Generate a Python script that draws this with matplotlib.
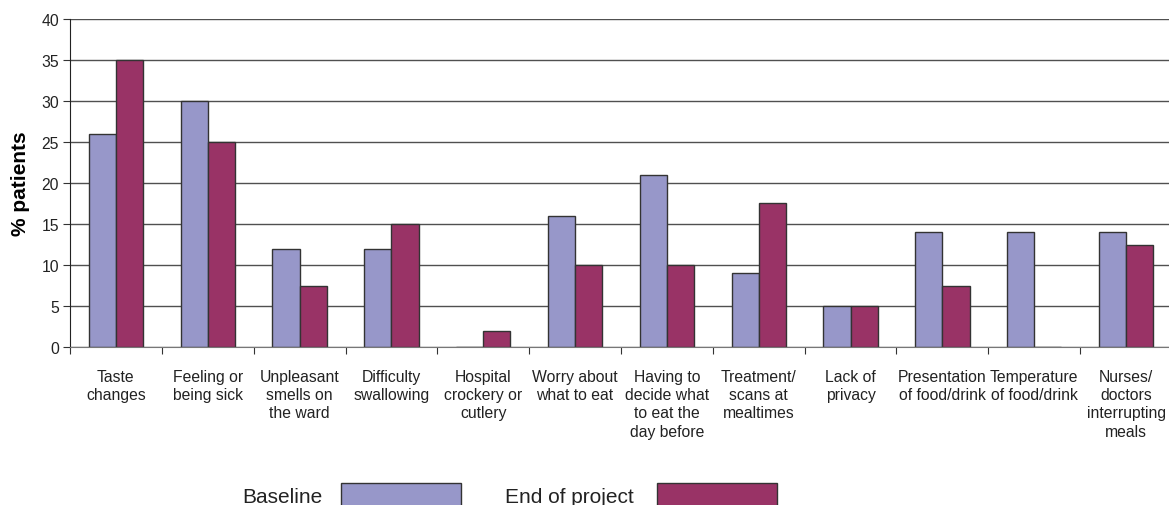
import matplotlib.pyplot as plt
import numpy as np
from matplotlib.patches import Rectangle

# Data
categories = ['Taste\nchanges', 'Feeling or\nbeing sick', 'Unpleasant\nsmells on\nthe ward',
              'Difficulty\nswallowing', 'Hospital\ncrockery or\ncutlery', 'Worry about\nwhat to eat',
              'Having to\ndecide what\nto eat the\nday before', 'Treatment/\nscans at\nmealtimes',
              'Lack of\nprivacy', 'Presentation\nof food/drink', 'Temperature\nof food/drink',
              'Nurses/\ndoctors\ninterrupting\nmeals']
baseline = [26, 30, 12, 12, 0, 16, 21, 9, 5, 14, 14, 14]
end_of_project = [35, 25, 7.5, 15, 2, 10, 10, 17.5, 5, 7.5, 0, 12.5]
series_names = ['Baseline', 'End of project']
colors = ['#9797C9', '#993366']

plt.rcParams['font.family'] = ['Liberation Sans', 'DejaVu Sans']

fig = plt.figure(figsize=(11.69, 5.06), dpi=100)
ax = fig.add_axes([70 / 1169, 1 - 348 / 506, 1102 / 1169, 328 / 506])

x = np.arange(len(categories))
w = 0.295
ax.bar(x - w / 2, baseline, w, color=colors[0], edgecolor='#333333', linewidth=1, zorder=3)
ax.bar(x + w / 2, end_of_project, w, color=colors[1], edgecolor='#333333', linewidth=1, zorder=3)

ax.set_xlim(-0.5, len(categories) - 0.5)
ax.set_ylim(0, 40)
ax.set_yticks(range(0, 41, 5))
ax.yaxis.grid(True, color='#505050', linewidth=1, zorder=0)
ax.set_axisbelow(True)

ax.set_xticks(np.arange(len(categories) + 1) - 0.5)
ax.set_xticklabels([])
ax.set_xticks(x, minor=True)
ax.set_xticklabels(categories, minor=True, fontsize=11.3, color='#222222', linespacing=1.26,
                   va='top')
ax.tick_params(axis='x', which='major', length=5, color='#333333')
ax.tick_params(axis='x', which='minor', length=0, pad=16)
ax.tick_params(axis='y', length=5, pad=3, labelsize=11.3, labelcolor='#222222', color='#333333')

for s in ['top', 'right']:
    ax.spines[s].set_visible(False)
ax.spines['left'].set_color('#222222')
ax.spines['bottom'].set_color('#777777')
ax.spines['bottom'].set_zorder(4)

ax.set_ylabel('% patients', fontsize=15, fontweight='bold', labelpad=8)

# Legend drawn at the bottom
fig.text(323 / 1169, 1 - 503 / 506, series_names[0], ha='right', va='baseline', fontsize=15, color='#222222')
fig.add_artist(Rectangle((341 / 1169, -0.02), 120 / 1169, (506 - 484) / 506 + 0.02,
                         transform=fig.transFigure, facecolor=colors[0], edgecolor='#333333', linewidth=1))
fig.text(634 / 1169, 1 - 503 / 506, series_names[1], ha='right', va='baseline', fontsize=15, color='#222222')
fig.add_artist(Rectangle((657 / 1169, -0.02), 120 / 1169, (506 - 484) / 506 + 0.02,
                         transform=fig.transFigure, facecolor=colors[1], edgecolor='#333333', linewidth=1))

fig.savefig('out.png', dpi=100)
